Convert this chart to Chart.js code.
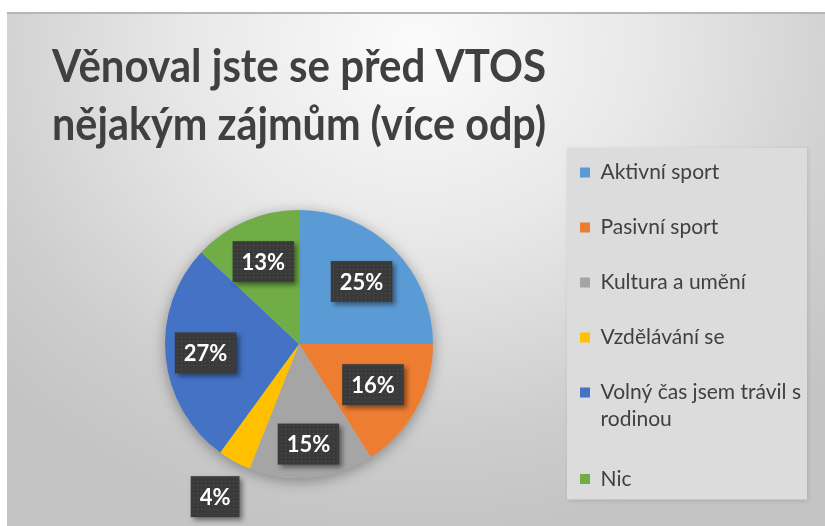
<!DOCTYPE html>
<html>
<head>
<meta charset="utf-8">
<script src="https://cdn.jsdelivr.net/npm/chart.js"></script>
<style>
  body { margin: 0; background: #fff; }
  #frame {
    position: absolute; left: 7px; top: 12px; width: 818px; height: 514px;
    background: radial-gradient(ellipse 70% 95% at 50% 6%, #fbfbfb 0%, #e8e8e8 40%, #cdcdcd 80%, #c4c4c4 100%);
    border-top: 2px solid #b6b6b6;
  }
  #chart-box { position: absolute; left: 0; top: 0; width: 825px; height: 526px; }
</style>
</head>
<body>
<div id="frame"></div>
<div id="chart-box"><canvas id="interestChart" width="825" height="526"></canvas></div>
<script>
const titleLines = ['Věnoval jste se před VTOS', 'nějakým zájmům (více odp)'];
const categories = ['Aktivní sport', 'Pasivní sport', 'Kultura a umění', 'Vzdělávání se',
    ['Volný čas jsem trávil s', 'rodinou'], 'Nic'];
const shares = [25, 16, 15, 4, 27, 13];
const sliceColors = ['#5b9bd5', '#ed7d31', '#a5a5a5', '#ffc000', '#4472c4', '#70ad47'];

// how far out along each slice its label box sits (share of the radius)
const labelReach = [0.66, 0.63, 0.75, 1.3, 0.7, 0.67];

let dotPattern = null;
function getDotPattern(ctx) {
    if (dotPattern) return dotPattern;
    const c = document.createElement('canvas');
    c.width = 4; c.height = 4;
    const p = c.getContext('2d');
    p.fillStyle = '#3a3a3a';
    p.fillRect(0, 0, 4, 4);
    p.fillStyle = 'rgba(255,255,255,0.13)';
    p.fillRect(1, 1, 1, 1);
    dotPattern = ctx.createPattern(c, 'repeat');
    return dotPattern;
}

// soft shadow under the pie
const pieShadow = {
    id: 'pieShadow',
    beforeDatasetsDraw(chart) {
        const arc = chart.getDatasetMeta(0).data[0];
        if (!arc) return;
        const ctx = chart.ctx;
        ctx.save();
        ctx.shadowColor = 'rgba(0,0,0,0.35)';
        ctx.shadowBlur = 14;
        ctx.shadowOffsetY = 3;
        ctx.fillStyle = '#bbb';
        ctx.beginPath();
        ctx.arc(arc.x, arc.y, arc.outerRadius, 0, Math.PI * 2);
        ctx.fill();
        ctx.restore();
    }
};

// lighter panel behind the legend
const legendPanel = {
    id: 'legendPanel',
    beforeDraw(chart) {
        const lg = chart.legend;
        if (!lg || !lg.legendHitBoxes.length) return;
        const boxes = lg.legendHitBoxes;
        const last = boxes[boxes.length - 1];
        const ctx = chart.ctx;
        ctx.save();
        ctx.shadowColor = 'rgba(0,0,0,0.12)';
        ctx.shadowBlur = 4;
        ctx.shadowOffsetX = 1;
        ctx.shadowOffsetY = 1;
        ctx.fillStyle = '#dcdcdc';
        const top = boxes[0].top - 14;
        const left = boxes[0].left - 13;
        ctx.fillRect(left, top, lg.right - 4 - left, last.top + last.height + 10 - top);
        ctx.restore();
    }
};

// dark boxes with the percentages
const boxLabels = {
    id: 'boxLabels',
    afterDatasetsDraw(chart) {
        const ctx = chart.ctx;
        const meta = chart.getDatasetMeta(0);
        const total = shares.reduce((a, b) => a + b, 0);
        ctx.save();
        ctx.font = 'bold 22px Lato';
        ctx.textAlign = 'center';
        ctx.textBaseline = 'middle';
        meta.data.forEach((arc, i) => {
            const { x, y, startAngle, endAngle, outerRadius } =
                arc.getProps(['x', 'y', 'startAngle', 'endAngle', 'outerRadius'], true);
            const mid = (startAngle + endAngle) / 2;
            const r = outerRadius * labelReach[i];
            const cx = x + Math.cos(mid) * r;
            const cy = y + Math.sin(mid) * r;
            const txt = Math.round(shares[i] / total * 100) + '%';
            const w = ctx.measureText(txt).width + 18;
            const h = 41;

            ctx.save();
            ctx.shadowColor = 'rgba(0,0,0,0.45)';
            ctx.shadowBlur = 5;
            ctx.shadowOffsetX = 3;
            ctx.shadowOffsetY = 3;
            ctx.fillStyle = getDotPattern(ctx);
            ctx.fillRect(cx - w / 2, cy - h / 2, w, h);
            ctx.restore();

            ctx.fillStyle = '#ffffff';
            ctx.fillText(txt, cx, cy + 1);
        });
        ctx.restore();
    }
};

new Chart(document.getElementById('interestChart'), {
    type: 'pie',
    data: {
        labels: categories,
        datasets: [{
            data: shares,
            backgroundColor: sliceColors,
            borderWidth: 0
        }]
    },
    options: {
        responsive: false,
        animation: false,
        devicePixelRatio: 1,
        radius: 134,
        layout: { padding: { top: 0, bottom: 0, left: 52, right: 14 } },
        plugins: {
            title: {
                display: true,
                text: titleLines,
                fullSize: false,
                color: '#404040',
                font: { family: 'Lato', size: 45, weight: 'bold', lineHeight: 1.3 },
                padding: { top: 38, bottom: 7 }
            },
            legend: {
                position: 'right',
                align: 'start',
                title: {
                    display: true,
                    text: ' ',
                    font: { size: 10 },
                    padding: { top: 116, bottom: 0 }
                },
                labels: {
                    boxWidth: 10,
                    boxHeight: 10,
                    padding: 34,
                    color: '#404040',
                    font: { family: 'Lato', size: 21, lineHeight: 1.25 }
                }
            },
            tooltip: { enabled: false }
        }
    },
    plugins: [pieShadow, legendPanel, boxLabels]
});
</script>
</body>
</html>
